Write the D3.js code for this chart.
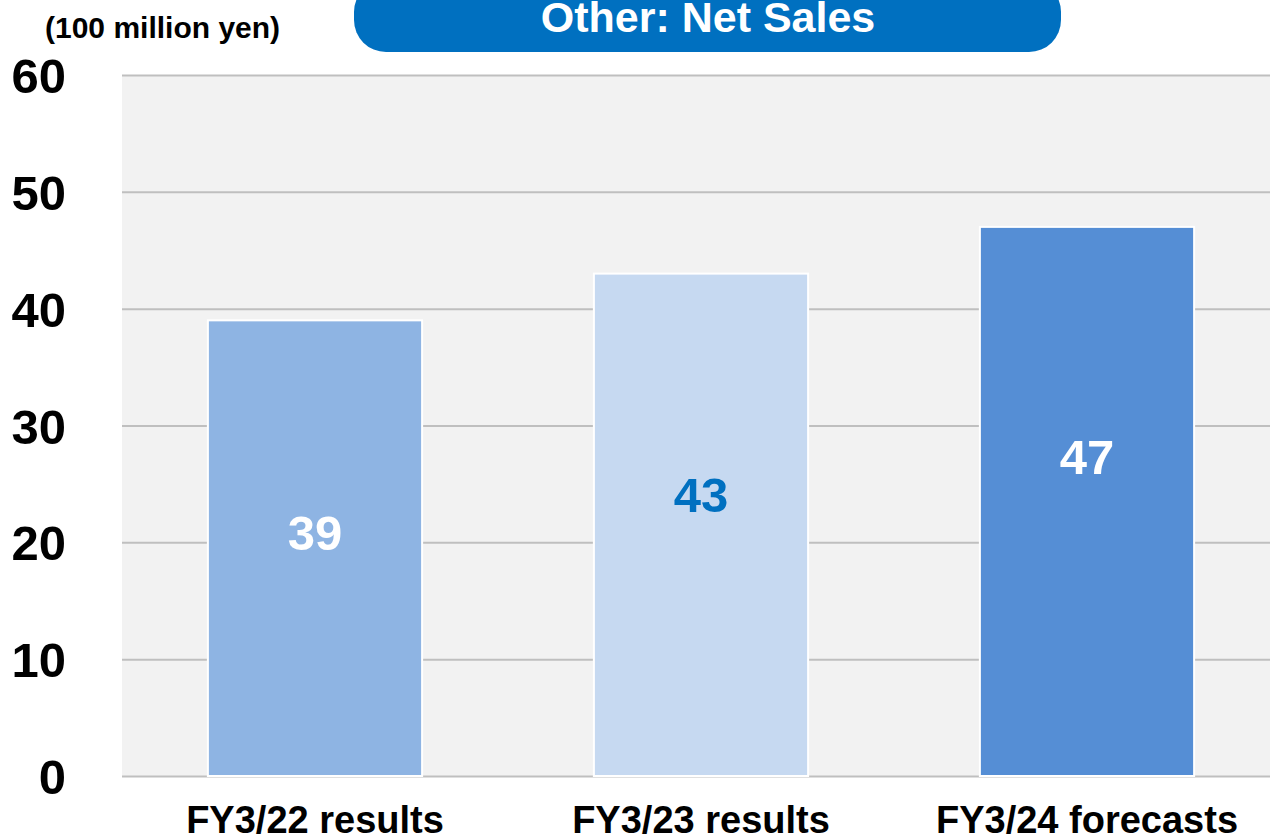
<!DOCTYPE html>
<html>
<head>
<meta charset="utf-8">
<script src="https://cdn.jsdelivr.net/npm/d3@7"></script>
<style>
  body { margin: 0; background: #fff; }
  svg { display: block; font-family: 'Liberation Sans', Arial, sans-serif; }
</style>
</head>
<body>
<div id="chart"></div>
<script>
// data
const categories = ['FY3/22 results', 'FY3/23 results', 'FY3/24 forecasts'];
const values = [39, 43, 47];
const barColors = ['#8eb4e3', '#c6d9f1', '#558ed5'];
const labelColors = ['#ffffff', '#0070c0', '#ffffff'];
const yTicks = [0, 10, 20, 30, 40, 50, 60];

const WIDTH = 1270;
const HEIGHT = 836;
const PLOT_LEFT = 122;
const PLOT_RIGHT = 1280;
const PLOT_TOP = 75;
const PLOT_BOTTOM = 776;

const svg = d3.select('#chart')
  .append('svg')
  .attr('width', WIDTH)
  .attr('height', HEIGHT)
  .attr('viewBox', `0 0 ${WIDTH} ${HEIGHT}`);

const x = d3.scaleBand()
  .domain(categories)
  .range([PLOT_LEFT, PLOT_RIGHT])
  .paddingInner(0.445)
  .paddingOuter(0.2225);

const y = d3.scaleLinear().domain([0, 60]).range([PLOT_BOTTOM, PLOT_TOP]);

// plot background
svg.append('rect')
  .attr('x', PLOT_LEFT)
  .attr('y', PLOT_TOP)
  .attr('width', WIDTH - PLOT_LEFT)
  .attr('height', PLOT_BOTTOM - PLOT_TOP)
  .attr('fill', '#f2f2f2');

// gridlines + tick labels
const yAxis = d3.axisLeft(y).tickValues(yTicks).tickSize(-(WIDTH - PLOT_LEFT)).tickPadding(56);
const gy = svg.append('g')
  .attr('transform', `translate(${PLOT_LEFT},0)`)
  .call(yAxis);
gy.select('.domain').remove();
gy.selectAll('.tick line').attr('stroke', '#bfbfbf').attr('stroke-width', 2);
gy.selectAll('.tick text')
  .attr('fill', '#000')
  .attr('font-size', 49)
  .attr('font-weight', 'bold')
  .attr('font-family', "'Liberation Sans', Arial, sans-serif")
  .attr('dy', '0.36em');

// bars
svg.selectAll('rect.bar')
  .data(values)
  .join('rect')
  .attr('class', 'bar')
  .attr('x', (d, i) => x(categories[i]))
  .attr('y', d => y(d))
  .attr('width', x.bandwidth())
  .attr('height', d => y(0) - y(d))
  .attr('fill', (d, i) => barColors[i])
  .attr('stroke', '#fff')
  .attr('stroke-width', 2);

// value labels (baseline sits a bit above the bar middle, rising with value)
svg.selectAll('text.val')
  .data(values)
  .join('text')
  .attr('class', 'val')
  .attr('x', (d, i) => x(categories[i]) + x.bandwidth() / 2)
  .attr('y', d => y(0.814 * d - 12.4))
  .attr('text-anchor', 'middle')
  .attr('font-size', 49)
  .attr('font-weight', 'bold')
  .attr('fill', (d, i) => labelColors[i])
  .text(d => d);

// category labels
const xAxis = d3.axisBottom(x).tickSize(0).tickPadding(0);
const gx = svg.append('g')
  .attr('transform', `translate(0,${PLOT_BOTTOM})`)
  .call(xAxis);
gx.select('.domain').remove();
gx.selectAll('.tick text')
  .attr('fill', '#000')
  .attr('font-size', 38)
  .attr('font-weight', 'bold')
  .attr('font-family', "'Liberation Sans', Arial, sans-serif")
  .attr('dy', null)
  .attr('y', 57);

// unit label
svg.append('text')
  .attr('x', 45)
  .attr('y', 38)
  .attr('font-size', 30)
  .attr('font-weight', 'bold')
  .attr('fill', '#000')
  .text('(100 million yen)');

// title pill
svg.append('rect')
  .attr('x', 354)
  .attr('y', -20)
  .attr('width', 707)
  .attr('height', 72)
  .attr('rx', 32)
  .attr('fill', '#0070c0');

svg.append('text')
  .attr('x', 708)
  .attr('y', 32)
  .attr('text-anchor', 'middle')
  .attr('font-size', 43)
  .attr('font-weight', 'bold')
  .attr('fill', '#fff')
  .text('Other: Net Sales');
</script>
</body>
</html>
